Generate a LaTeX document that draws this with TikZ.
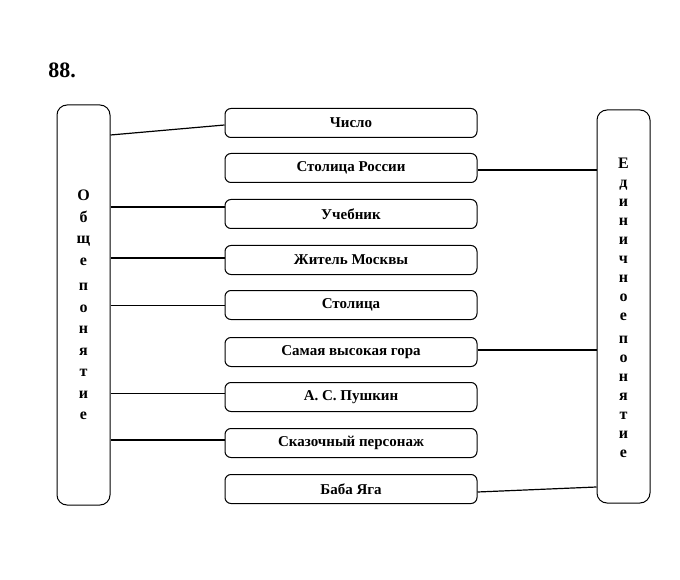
\documentclass[tikz,border=0pt]{standalone}
\usepackage{fontspec}
\setmainfont{Liberation Serif}
\begin{document}
\begin{tikzpicture}[x=1pt,y=-1pt,
  mid/.style={draw,line width=1pt,rounded corners=6pt,minimum width=252pt,minimum height=29pt,font=\bfseries\fontsize{15}{17}\selectfont},
  side/.style={draw,line width=1pt,rounded corners=10pt},
  vtxt/.style={align=center,font=\bfseries\fontsize{16}{19}\selectfont},
  ln/.style={line width=1.2pt}]
\useasboundingbox (0,0) rectangle (680,580);
\node[font=\bfseries\fontsize{22}{24}\selectfont] (num) at (62,70) {88.};
\node[side,minimum width=53pt,minimum height=400pt] (L) at (83.5,305) {};
\node[side,minimum width=53pt,minimum height=393pt] (R) at (623.5,306.5) {};
\node[vtxt,font=\bfseries\fontsize{16}{21.5}\selectfont] (lt) at (83.5,305) {О\\б\\щ\\е\\[4pt]п\\о\\н\\я\\т\\и\\е};
\node[vtxt] (rt) at (623.5,308) {Е\\д\\и\\н\\и\\ч\\н\\о\\е\\[4pt]п\\о\\н\\я\\т\\и\\е};
\node[mid] (a) at (351,123) {Число};
\node[mid] (b) at (351,168) {Столица России};
\node[mid] (c) at (351,214) {Учебник};
\node[mid] (d) at (351,260) {Житель Москвы};
\node[mid] (e) at (351,305) {Столица};
\node[mid] (f) at (351,352) {Самая высокая гора};
\node[mid] (g) at (351,397) {А. С. Пушкин};
\node[mid] (h) at (351,443) {Сказочный персонаж};
\node[mid] (i) at (351,489) {Баба Яга};
\draw[ln] (L.east |- 0,135) -- (a.west |- 0,125);
\draw[ln] (L.east |- 0,207) -- (c.west |- 0,207);
\draw[ln] (L.east |- 0,258) -- (d.west |- 0,258);
\draw[line width=0.8pt] (L.east |- 0,305) -- (e.west |- 0,305);
\draw[line width=0.8pt] (L.east |- 0,393) -- (g.west |- 0,393);
\draw[ln] (L.east |- 0,440) -- (h.west |- 0,440);
\draw[ln] (b.east |- 0,170) -- (R.west |- 0,170);
\draw[ln] (f.east |- 0,350) -- (R.west |- 0,350);
\draw[ln] (i.east |- 0,492) -- (R.west |- 0,487);
\end{tikzpicture}
\end{document}
